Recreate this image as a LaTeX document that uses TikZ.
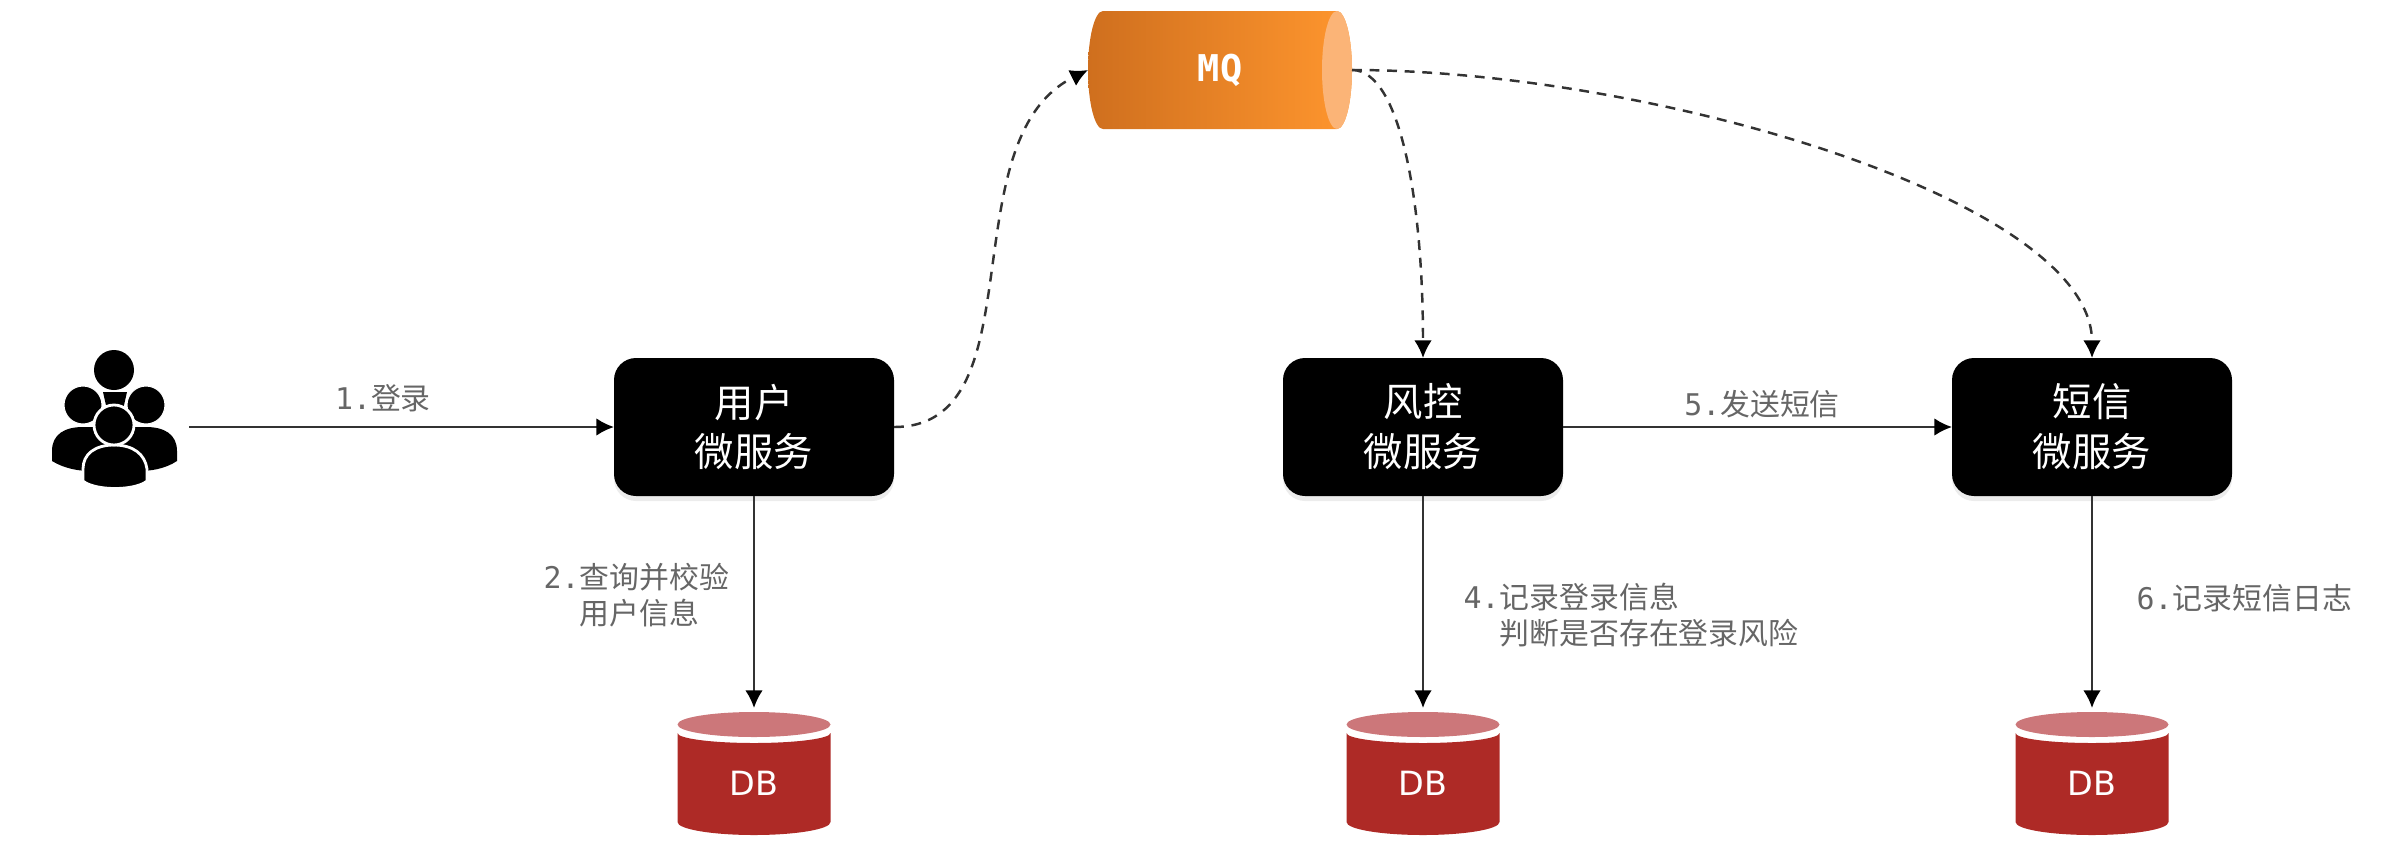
\documentclass[tikz,border=0pt]{standalone}
\usepackage{fontspec}
\usepackage{xcolor}
\setmainfont{DejaVu Sans Mono}
\newfontfamily\cjk{Noto Sans CJK SC}
\newfontfamily\dbfont{DejaVu Sans}
\usetikzlibrary{arrows.meta,shadows}

\definecolor{mqdark}{HTML}{CF6F1E}
\definecolor{mqlight}{HTML}{FF962E}
\definecolor{mqcap}{HTML}{FBB477}
\definecolor{dbred}{HTML}{AE2A26}
\definecolor{dbtop}{HTML}{CC777A}
\definecolor{stepgray}{HTML}{666666}
\definecolor{linegray}{HTML}{333333}

\tikzset{
  service/.style={fill=black,text=white,rounded corners=0.22cm,minimum width=2.8cm,minimum height=1.38cm,
    align=center,font=\cjk\fontsize{11.2}{14.2}\selectfont,inner sep=0pt,outer sep=0pt,
    drop shadow={shadow xshift=0cm,shadow yshift=-0.05cm,opacity=0.15}},
  steplabel/.style={text=stepgray,font=\fontsize{8.5}{10.2}\selectfont,inner sep=0pt,align=left},
  link/.style={draw=linegray,line width=0.7pt,-{Latex[length=5pt,width=5pt,black]}},
  dashlink/.style={link,dash pattern=on 2.8pt off 2.2pt},
  dbbox/.style={text=white,font=\dbfont\fontsize{9.5}{11}\selectfont,minimum width=1.53cm,minimum height=1.42cm,inner sep=0pt,outer sep=0pt}
}

\newcommand{\dbicon}[2]{
  \begin{scope}[shift={(#2,0)}]
    \fill[dbred] (-0.765,1.26) arc[start angle=180,end angle=360,x radius=0.765,y radius=0.10]
      -- (0.765,0.37) arc[start angle=0,end angle=-180,x radius=0.765,y radius=0.13] -- cycle;
    \fill[dbtop] (0,1.345) ellipse[x radius=0.765,y radius=0.125];
  \end{scope}
  \node (#1) at (#2,0.76) [dbbox] {DB};
}

\begin{document}
\begin{tikzpicture}[scale=1]
  \useasboundingbox (0,0) rectangle (23.93,8.59);

  % people
  \fill[black] (1.14,4.89) circle (0.20);
  \fill[black] (1.03,4.67) -- (1.27,4.67) -- (1.22,4.45) -- (1.08,4.45) -- cycle;
  \fill[black] (0.52,3.98) -- (0.52,4.08) .. controls (0.52,4.25) and (0.65,4.32) .. (0.83,4.32)
    -- (1.46,4.32) .. controls (1.64,4.32) and (1.77,4.25) .. (1.77,4.08) -- (1.77,3.98)
    .. controls (1.65,3.90) and (1.5,3.88) .. (1.4,3.88) -- (0.9,3.88) .. controls (0.8,3.88) and (0.65,3.90) .. cycle;
  \draw[white,fill=black,line width=0.3pt] (0.83,4.54) circle (0.19);
  \draw[white,fill=black,line width=0.3pt] (1.46,4.54) circle (0.19);
  \draw[white,fill=black,line width=0.8pt] (0.83,3.78) -- (0.83,3.9) .. controls (0.83,4.05) and (0.95,4.14) .. (1.14,4.14)
    .. controls (1.33,4.14) and (1.45,4.05) .. (1.47,3.9) -- (1.47,3.78) .. controls (1.35,3.68) and (0.95,3.68) .. cycle;
  \draw[white,fill=black,line width=0.8pt] (1.14,4.34) circle (0.20);
  \coordinate (personout) at (1.89,4.32);

  % mq
  \shade[left color=mqdark,right color=mqlight] (11.03,8.48) -- (13.37,8.48)
    arc[start angle=90,end angle=-90,x radius=0.15,y radius=0.59] -- (11.03,7.30)
    arc[start angle=270,end angle=90,x radius=0.15,y radius=0.59] -- cycle;
  \fill[mqcap] (13.37,7.89) ellipse[x radius=0.15,y radius=0.59];
  \node (mq) at (12.20,7.89) [text=white,font=\bfseries\fontsize{10.5}{12}\selectfont,minimum width=2.64cm,minimum height=1.18cm,inner sep=0pt,outer sep=0pt] {MQ};

  \node (userbox) at (7.54,4.32) [service] {用户\\微服务};
  \node (riskbox) at (14.23,4.32) [service] {风控\\微服务};
  \node (smsbox) at (20.92,4.32) [service] {短信\\微服务};

  \dbicon{dbuser}{7.54}
  \dbicon{dbrisk}{14.23}
  \dbicon{dbsms}{20.92}

  \node (stepa) at (3.83,4.61) [steplabel] {1.{\cjk 登录}};
  \node (stepb) at (5.43,2.64) [steplabel,anchor=west] {2.{\cjk 查询并校验}\\\hphantom{2.}{\cjk 用户信息}};
  \node (stepd) at (14.63,2.44) [steplabel,anchor=west] {4.{\cjk 记录登录信息}\\\hphantom{4.}{\cjk 判断是否存在登录风险}};
  \node (stepe) at (17.62,4.55) [steplabel] {5.{\cjk 发送短信}};
  \node (stepf) at (21.36,2.61) [steplabel,anchor=west] {6.{\cjk 记录短信日志}};

  \draw[link] (personout) -- (userbox);
  \draw[link] (riskbox) -- (smsbox);
  \draw[link,shorten >=0.04cm] (userbox) -- (dbuser);
  \draw[link,shorten >=0.04cm] (riskbox) -- (dbrisk);
  \draw[link,shorten >=0.04cm] (smsbox) -- (dbsms);

  \draw[dashlink] (userbox.east) .. controls +(1.45,0) and +(-1.4,-0.7) .. (mq.west);
  \draw[dashlink] (mq.east) .. controls +(0.48,0) and +(0,1.58) .. (riskbox.north);
  \draw[dashlink] (mq.east) .. controls +(2.98,0) and +(0,1.58) .. (smsbox.north);
\end{tikzpicture}
\end{document}
